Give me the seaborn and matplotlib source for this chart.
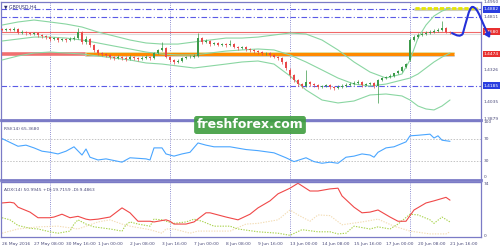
import numpy as np
import pandas as pd
import matplotlib
matplotlib.use("Agg")
import matplotlib.pyplot as plt
import matplotlib.transforms as mtransforms
from matplotlib.path import Path
from matplotlib.patches import FancyArrowPatch
import seaborn as sns

sns.set_style("white")
plt.rcParams['font.family'] = ['DejaVu Sans']

# ---------------- data ----------------
symbol = "GBPUSD,H4"
opens = [1.4703,1.4693,1.4703,1.4693,1.4703,1.4666,1.4675,1.4666,1.4657,1.4666,
         1.4648,1.4639,1.4629,1.4611,1.4620,1.4602,1.4611,1.4602,1.4611,1.4620,
         1.4675,1.4584,1.4611,1.4556,1.4511,1.4483,1.4474,1.4465,1.4446,1.4437,
         1.4446,1.4437,1.4428,1.4446,1.4437,1.4428,1.4437,1.4446,1.4437,1.4483,
         1.4511,1.4529,1.4446,1.4419,1.4401,1.4410,1.4437,1.4446,1.4446,1.4456,
         1.4620,1.4584,1.4593,1.4565,1.4575,1.4556,1.4565,1.4556,1.4565,1.4538,
         1.4529,1.4538,1.4520,1.4511,1.4501,1.4492,1.4483,1.4483,1.4465,1.4446,
         1.4437,1.4401,1.4328,1.4282,1.4236,1.4199,1.4181,1.4218,1.4199,1.4190,
         1.4172,1.4181,1.4190,1.4172,1.4163,1.4172,1.4181,1.4190,1.4199,1.4209,
         1.4218,1.4190,1.4199,1.4209,1.4181,1.4236,1.4254,1.4263,1.4273,1.4300,
         1.4318,1.4355,1.4419,1.4602,1.4629,1.4648,1.4657,1.4666,1.4675,1.4684,
         1.4693,1.4712,1.4675]
highs = [1.4712,1.4712,1.4712,1.4721,1.4712,1.4693,1.4684,1.4675,1.4675,1.4675,
         1.4657,1.4648,1.4639,1.4629,1.4629,1.4620,1.4620,1.4629,1.4639,1.4712,
         1.4684,1.4639,1.4620,1.4565,1.4520,1.4492,1.4483,1.4474,1.4456,1.4465,
         1.4456,1.4456,1.4465,1.4456,1.4446,1.4456,1.4465,1.4456,1.4492,1.4520,
         1.4584,1.4538,1.4456,1.4428,1.4428,1.4446,1.4456,1.4465,1.4474,1.4666,
         1.4629,1.4611,1.4602,1.4584,1.4584,1.4575,1.4575,1.4602,1.4575,1.4547,
         1.4547,1.4547,1.4529,1.4520,1.4511,1.4501,1.4492,1.4492,1.4474,1.4456,
         1.4446,1.4410,1.4346,1.4291,1.4245,1.4209,1.4328,1.4227,1.4209,1.4199,
         1.4190,1.4199,1.4199,1.4181,1.4190,1.4199,1.4209,1.4218,1.4227,1.4236,
         1.4227,1.4209,1.4218,1.4218,1.4245,1.4263,1.4273,1.4291,1.4300,1.4328,
         1.4364,1.4392,1.4620,1.4648,1.4666,1.4675,1.4684,1.4693,1.4703,1.4712,
         1.4776,1.4721,1.4684]
lows = [1.4684,1.4684,1.4684,1.4684,1.4657,1.4657,1.4648,1.4648,1.4648,1.4629,
        1.4620,1.4611,1.4593,1.4602,1.4584,1.4593,1.4584,1.4593,1.4602,1.4611,
        1.4565,1.4565,1.4538,1.4492,1.4465,1.4456,1.4446,1.4428,1.4419,1.4428,
        1.4419,1.4410,1.4419,1.4419,1.4410,1.4419,1.4428,1.4419,1.4428,1.4474,
        1.4501,1.4437,1.4401,1.4382,1.4392,1.4401,1.4428,1.4437,1.4437,1.4446,
        1.4565,1.4575,1.4547,1.4556,1.4547,1.4547,1.4538,1.4547,1.4529,1.4511,
        1.4520,1.4501,1.4492,1.4483,1.4474,1.4465,1.4465,1.4446,1.4437,1.4419,
        1.4382,1.4328,1.4254,1.4218,1.4181,1.4163,1.4172,1.4181,1.4172,1.4154,
        1.4163,1.4172,1.4154,1.4145,1.4154,1.4163,1.4172,1.4181,1.4190,1.4199,
        1.4172,1.4181,1.4190,1.4163,1.4026,1.4227,1.4245,1.4254,1.4263,1.4291,
        1.4309,1.4346,1.4410,1.4593,1.4620,1.4639,1.4648,1.4657,1.4666,1.4675,
        1.4684,1.4666,1.4657]
closes = [1.4693,1.4703,1.4693,1.4703,1.4666,1.4675,1.4666,1.4657,1.4666,1.4648,
          1.4639,1.4629,1.4611,1.4620,1.4602,1.4611,1.4602,1.4611,1.4620,1.4675,
          1.4584,1.4611,1.4556,1.4511,1.4483,1.4474,1.4465,1.4446,1.4437,1.4446,
          1.4437,1.4428,1.4446,1.4437,1.4428,1.4437,1.4446,1.4437,1.4483,1.4511,
          1.4529,1.4446,1.4419,1.4401,1.4410,1.4437,1.4446,1.4446,1.4456,1.4620,
          1.4584,1.4593,1.4565,1.4575,1.4556,1.4565,1.4556,1.4565,1.4538,1.4529,
          1.4538,1.4520,1.4511,1.4501,1.4492,1.4483,1.4483,1.4465,1.4446,1.4437,
          1.4401,1.4346,1.4282,1.4236,1.4199,1.4181,1.4218,1.4199,1.4190,1.4172,
          1.4181,1.4190,1.4172,1.4163,1.4172,1.4181,1.4190,1.4199,1.4209,1.4218,
          1.4190,1.4199,1.4209,1.4181,1.4236,1.4254,1.4263,1.4273,1.4300,1.4318,
          1.4355,1.4382,1.4602,1.4629,1.4648,1.4657,1.4666,1.4675,1.4684,1.4693,
          1.4712,1.4675,1.4666]

bb_bar = [0,4,8,12,16,20,24,28,32,36,40,44,48,52,56,60,64,68,72,76,80,84,88,92,96,100,
          102,104,106,108,110,112]
bb_upper = [1.4739,1.4767,1.4785,1.4767,1.4748,1.4721,1.4675,1.4639,1.4602,1.4575,1.4565,
            1.4565,1.4584,1.4602,1.4620,1.4620,1.4629,1.4648,1.4666,1.4657,1.4602,1.4511,
            1.4401,1.4309,1.4254,1.4291,1.4419,1.4620,1.4739,1.4822,1.4867,1.4895]
bb_middle = [1.4593,1.4611,1.4629,1.4629,1.4620,1.4602,1.4575,1.4547,1.4520,1.4492,1.4474,
             1.4465,1.4465,1.4483,1.4501,1.4511,1.4520,1.4511,1.4465,1.4401,1.4328,1.4254,
             1.4199,1.4181,1.4199,1.4236,1.4254,1.4291,1.4346,1.4401,1.4446,1.4483]
bb_lower = [1.4419,1.4456,1.4483,1.4492,1.4483,1.4474,1.4456,1.4437,1.4419,1.4392,1.4382,
            1.4364,1.4346,1.4364,1.4382,1.4401,1.4410,1.4382,1.4273,1.4145,1.4053,1.4026,
            1.4044,1.4099,1.4108,1.4090,1.4053,1.3998,1.3971,1.3962,1.3998,1.4053]

rsi_bar = [0,2,4,6,8,10,12,14,16,18,20,21,22,24,26,30,32,34,36,37,38,40,41,43,45,47,49,51,
           53,57,61,64,68,71,73,76,78,80,82,84,86,88,90,92,93,94,96,98,99,101,102,104,107,
           108,109,110,112]
rsi_val = [70,63,56,58,53,47,45,42,47,55,40,51,36,31,33,27,35,34,33,31,53,53,42,38,42,45,62,
           58,55,55,50,48,44,35,28,35,28,25,27,25,36,38,42,40,36,45,53,55,58,64,75,76,78,
           71,75,67,65]

adx_bar = [0,2,3,4,7,9,12,13,15,17,19,21,22,24,27,30,32,34,37,38,41,42,43,46,48,51,52,56,59,
           62,64,67,69,72,74,77,79,82,84,85,88,90,92,94,97,99,101,103,106,108,111,112]
adx_val = [47,48,47,41,34,26,26,27,31,26,28,24,23,24,27,40,33,21,21,20,23,21,17,17,20,33,33,
           27,23,31,40,50,60,68,75,64,64,67,68,57,41,33,34,37,27,21,21,37,47,50,55,51]

pdi_bar = [0,2,4,7,9,12,14,17,18,19,21,23,27,30,31,32,34,37,38,40,41,43,46,48,50,53,57,59,64,
           69,72,75,79,82,84,86,88,92,94,97,99,102,104,107,108,110,112]
pdi_val = [26,23,15,11,10,6,4,7,17,23,17,13,10,7,16,20,17,14,24,23,21,18,20,24,21,14,14,10,6,
           4,1,9,6,6,3,4,14,10,13,10,17,31,30,23,18,27,20]

mdi_bar = [0,4,9,14,19,24,27,30,32,37,40,41,43,47,49,53,57,61,64,69,72,74,77,79,82,85,90,94,
           98,102,107,111,112]
mdi_val = [4,10,13,14,10,20,23,17,14,9,4,10,10,4,7,7,7,17,18,23,37,30,21,30,29,16,20,24,14,7,
           3,3,6]

xtick_bars = [0,8,16,24,32,40,48,56,64,72,80,88,96,104,112]
xtick_labels = ["26 May 2016","27 May 08:00","30 May 16:00","1 Jun 00:00","2 Jun 08:00",
                "3 Jun 16:00","7 Jun 00:00","8 Jun 08:00","9 Jun 16:00","13 Jun 00:00",
                "14 Jun 08:00","15 Jun 16:00","17 Jun 00:00","20 Jun 08:00","21 Jun 16:00"]
separator_bars = [12, 42, 72, 102]

price_ticks = [1.4950, 1.4326, 1.4035, 1.3879]
level_red_thin = 1.4680
level_support = 1.4474
level_top = 1.4895
dashdot_levels = [1.4882, 1.4811, 1.4185]
rsi_label = "RSI(14) 65.3680"
adx_label = "ADX(14) 50.9945 +DI:19.7159 -DI:9.4863"

# ---------------- figure ----------------
W, H = 500, 250
fig = plt.figure(figsize=(5, 2.5), dpi=100)
fig.patch.set_facecolor("white")

def box(x0, y0, x1, y1):
    return [x0 / W, 1 - y1 / H, (x1 - x0) / W, (y1 - y0) / H]

ax1 = fig.add_axes(box(1, 2, 481, 120))
ax2 = fig.add_axes(box(1, 121, 481, 180))
ax3 = fig.add_axes(box(1, 182, 481, 237))

frame = "#7b7bc6"
txtc = "#4a4a7a"
XL = (-0.25, 119.75)
for ax in (ax1, ax2, ax3):
    ax.set_xlim(*XL)
    ax.set_facecolor("white")
    for s in ax.spines.values():
        s.set_color(frame)
        s.set_linewidth(0.9)
    ax.set_xticks([]); ax.set_yticks([])
    for b in separator_bars:
        ax.axvline(b, color="#6a6ac4", lw=0.6, ls=(0, (1.0, 1.6)), zorder=1)
ax1.spines['bottom'].set_linewidth(2.0)
ax2.spines['top'].set_linewidth(1.0)
ax2.spines['bottom'].set_linewidth(2.0)
ax3.spines['top'].set_linewidth(1.0)

# ---- main panel ----
ax1.set_ylim(1.3870, 1.4950)
df = pd.DataFrame({"o": opens, "h": highs, "l": lows, "c": closes})
df["bar"] = np.arange(len(df))
up = df["c"] >= df["o"]
colors = np.where(up, "#3c9a4a", "#e84a4a")
ax1.vlines(df["bar"], df["l"], df["h"], colors=colors, lw=0.5, zorder=4)
ax1.bar(df["bar"], (df["c"] - df["o"]).abs().clip(lower=0.0003), bottom=df[["o", "c"]].min(axis=1),
        width=0.35, color=colors, lw=0, zorder=5)

bbc = "#8ad6a2"
for arr in (bb_upper, bb_middle, bb_lower):
    sns.lineplot(x=bb_bar, y=arr, ax=ax1, color=bbc, lw=0.8, zorder=3)

# horizontal levels
ax1.axhline(level_red_thin, color="#f06868", lw=0.8, zorder=2)
ax1.axhline(level_red_thin - 0.0022, color="#dddddd", lw=0.8, zorder=2)
for lv in dashdot_levels:
    ax1.axhline(lv, color="#5a5ae6", lw=0.8, ls=(0, (5, 2, 1, 2)), zorder=2)
ax1.plot([-0.25, 21], [level_support, level_support], color="#f07070", lw=2.6, zorder=2,
         solid_capstyle="butt")
ax1.plot([21, 113], [level_support + 0.0012, level_support + 0.0012], color="#e2e2a8", lw=1.4, zorder=2)
ax1.plot([21, 113], [level_support - 0.0016, level_support - 0.0016], color="#cfcfcf", lw=1.4, zorder=2)
ax1.plot([21, 113], [level_support, level_support], color="#ff8a00", lw=2.2, zorder=2,
         solid_capstyle="butt")
ax1.plot([103.3, 118.8], [level_top - 0.0010, level_top - 0.0010], color="#cfcfb8", lw=2.2, zorder=2)
ax1.plot([103.3, 118.8], [level_top, level_top], color="#e6e600", lw=2.0, zorder=2,
         ls=(0, (1.5, 0.7)))

# forecast arrow
verts = [(112.5, 1.4666), (113.8, 1.4640), (114.6, 1.4630), (115.2, 1.4660),
         (116.0, 1.4760), (116.8, 1.4905), (117.6, 1.4905),
         (119.0, 1.4905), (120.0, 1.4760), (122.0, 1.4620)]
codes = [Path.MOVETO, Path.CURVE4, Path.CURVE4, Path.CURVE4,
         Path.CURVE4, Path.CURVE4, Path.CURVE4, Path.CURVE4, Path.CURVE4, Path.CURVE4]
arrow = FancyArrowPatch(path=Path(verts, codes), arrowstyle="-|>,head_length=2.5,head_width=1.6",
                        color="#2430d8", lw=1.5, transform=ax1.transData, clip_on=False, zorder=8)
ax1.add_patch(arrow)

# right axis labels
rt1 = mtransforms.blended_transform_factory(ax1.transAxes, ax1.transData)
for p in price_ticks:
    ax1.text(1.006, p, f"{p:.4f}", transform=rt1, fontsize=3.2, color=txtc, va="center", ha="left")
ax1.text(1.006, 1.4811, "1.4811", transform=rt1, fontsize=3.2, color=txtc, va="center", ha="left")
for p, fc in [(1.4882, "#2a3ee0"), (1.4185, "#2a3ee0"), (level_red_thin, "#e83030"), (level_support, "#e83030")]:
    ax1.text(1.006, p, f"{p:.4f}", transform=rt1, fontsize=3.2, color="white", va="center", ha="left",
             bbox=dict(boxstyle="square,pad=0.25", fc=fc, ec="none"))

ax1.text(0.006, 0.955, "\u25BC " + symbol, transform=ax1.transAxes, fontsize=3.3, color="#303070",
         va="center", ha="left")

# ---- RSI ----
ax2.set_ylim(-5.5, 102)
ax2.axhline(70, color="#c4c4c4", lw=0.7, ls=(0, (1.5, 1.5)))
ax2.axhline(30, color="#c4c4c4", lw=0.7, ls=(0, (1.5, 1.5)))
sns.lineplot(x=rsi_bar, y=rsi_val, ax=ax2, color="#4aa6ff", lw=0.8)
rt2 = mtransforms.blended_transform_factory(ax2.transAxes, ax2.transData)
for v in (100, 70, 30, 0):
    ax2.text(1.006, v, str(v), transform=rt2, fontsize=3.2, color=txtc, va="center", ha="left")
ax2.text(0.006, 0.87, rsi_label, transform=ax2.transAxes, fontsize=3.2, color=txtc, va="center")

# ---- ADX ----
ax3.set_ylim(-1.4, 76.8)
sns.lineplot(x=mdi_bar, y=mdi_val, ax=ax3, color="#f3dcb4", lw=0.8, linestyle=(0, (1.2, 1.2)))
sns.lineplot(x=pdi_bar, y=pdi_val, ax=ax3, color="#a8d24a", lw=0.8, linestyle=(0, (1.2, 1.2)))
sns.lineplot(x=adx_bar, y=adx_val, ax=ax3, color="#f04848", lw=0.8)
rt3 = mtransforms.blended_transform_factory(ax3.transAxes, ax3.transData)
for v in (74, 0):
    ax3.text(1.006, v, str(v), transform=rt3, fontsize=3.2, color=txtc, va="center", ha="left")
ax3.text(0.006, 0.86, adx_label, transform=ax3.transAxes, fontsize=3.2, color=txtc, va="center")

ax3.set_xticks(xtick_bars)
ax3.set_xticklabels(xtick_labels, fontsize=3.2, color=txtc, ha="left")
ax3.tick_params(axis="x", length=2, width=0.6, color=frame, pad=1.5, direction="out")

for a in (ax1, ax2, ax3):
    a.set_xlabel(""); a.set_ylabel("")

# watermark
fig.text(0.5, 0.5, "freshforex.com", fontsize=9, color="white", ha="center", va="center",
         weight="bold", bbox=dict(boxstyle="round,pad=0.2", fc="#3f9e3f", ec="none", alpha=0.9), zorder=20)

fig.savefig("out.png", dpi=100)
